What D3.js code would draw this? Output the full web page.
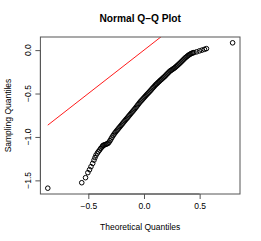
<!DOCTYPE html>
<html><head><meta charset="utf-8">
<script src="https://cdn.jsdelivr.net/npm/d3@7"></script>
<style>
html,body{margin:0;padding:0;background:#fff;}
svg{display:block;}
text{font-family:"Liberation Sans",Arial,Helvetica,sans-serif;fill:#000;}
</style></head>
<body>
<script>
// Theoretical quantiles (x) and sample quantiles (y)
const theoretical = [
 -0.864,-0.559,-0.525,-0.504,-0.489,-0.476,-0.461,-0.449,-0.440,-0.431,-0.419,-0.410,-0.399,-0.389,-0.379,-0.371,
 -0.368,-0.359,-0.350,-0.341,-0.332,-0.323,-0.314,-0.305,-0.296,-0.287,-0.278,-0.269,-0.260,-0.251,-0.242,-0.233,
 -0.224,-0.215,-0.206,-0.197,-0.189,-0.180,-0.171,-0.162,-0.153,-0.144,-0.135,-0.126,-0.117,-0.108,-0.099,-0.090,
 -0.081,-0.072,-0.063,-0.054,-0.045,-0.036,-0.027,-0.018,-0.009,0.000,0.009,0.018,0.027,0.036,0.045,0.054,
 0.063,0.072,0.081,0.090,0.099,0.108,0.117,0.126,0.135,0.144,0.153,0.162,0.171,0.180,0.189,0.197,
 0.206,0.215,0.224,0.233,0.242,0.251,0.260,0.269,0.278,0.287,0.296,0.305,0.314,0.323,0.332,0.341,
 0.350,0.359,0.368,0.377,0.386,0.395,0.404,0.413,0.422,0.431,0.440,0.449,
 0.473,0.498,0.521,0.543,0.561,0.796
];
const sample = [
 -1.590,-1.527,-1.469,-1.411,-1.377,-1.342,-1.305,-1.267,-1.238,-1.210,-1.187,-1.169,-1.152,-1.132,-1.118,-1.106,
 -1.098,-1.093,-1.089,-1.084,-1.079,-1.074,-1.060,-1.043,-1.023,-1.003,-0.985,-0.968,-0.952,-0.937,-0.923,-0.909,
 -0.895,-0.881,-0.867,-0.853,-0.840,-0.826,-0.812,-0.798,-0.785,-0.771,-0.757,-0.743,-0.729,-0.715,-0.702,-0.688,
 -0.674,-0.659,-0.644,-0.629,-0.614,-0.599,-0.586,-0.574,-0.561,-0.548,-0.535,-0.522,-0.509,-0.497,-0.485,-0.472,
 -0.460,-0.446,-0.433,-0.421,-0.407,-0.395,-0.385,-0.373,-0.363,-0.351,-0.341,-0.331,-0.320,-0.310,-0.300,-0.288,
 -0.276,-0.265,-0.253,-0.242,-0.234,-0.226,-0.218,-0.210,-0.202,-0.191,-0.181,-0.171,-0.160,-0.150,-0.138,-0.127,
 -0.115,-0.104,-0.092,-0.083,-0.073,-0.063,-0.055,-0.048,-0.041,-0.036,-0.031,-0.028,
 -0.020,-0.009,0.000,0.009,0.017,0.084
];
const xTicks = [-0.5, 0.0, 0.5];
const yTicks = [-1.5, -1.0, -0.5, 0.0];
const titleText = "Normal Q\u2013Q Plot";
const xLabel = "Theoretical Quantiles";
const yLabel = "Sampling Quantiles";

const W = 261, H = 241;
const L = 40.4, R = 240, T = 37, B = 194;
const fmt = v => (v < 0 ? "\u2212" : "") + Math.abs(v).toFixed(1);

function ext(arr){ const [a,b] = d3.extent(arr); const r = (b-a)*0.04; return [a-r, b+r]; }
const x = d3.scaleLinear().domain(ext(theoretical)).range([L, R]);
const y = d3.scaleLinear().domain(ext(sample)).range([B, T]);

const svg = d3.select("body").append("svg").attr("width", W).attr("height", H);

svg.append("defs").append("clipPath").attr("id","clip")
  .append("rect").attr("x", L).attr("y", T).attr("width", R-L).attr("height", B-T);

const pts = theoretical.map((t,i)=>({t, s: sample[i]}));

// points
svg.append("g").selectAll("circle").data(pts).join("circle")
  .attr("cx", d=>x(d.t)).attr("cy", d=>y(d.s)).attr("r", 2.3)
  .attr("fill","none").attr("stroke","#000").attr("stroke-width",1);

// reference line y = x over the range of theoretical quantiles
const [tmin, tmax] = d3.extent(theoretical);
svg.append("line").attr("clip-path","url(#clip)")
  .attr("x1", x(tmin)).attr("y1", y(tmin)).attr("x2", x(tmax)).attr("y2", y(tmax))
  .attr("stroke","#ff0000").attr("stroke-width",0.9);

// box
svg.append("rect").attr("x", L).attr("y", T).attr("width", R-L).attr("height", B-T)
  .attr("fill","none").attr("stroke","#555").attr("stroke-width",1);

// x axis
const xa = svg.append("g").attr("transform", `translate(0,${B})`)
  .call(d3.axisBottom(x).tickValues(xTicks).tickSize(5).tickPadding(4).tickFormat(fmt));
xa.selectAll(".tick line").attr("stroke","#555");
xa.selectAll("text").attr("font-size","8.5px").attr("font-family","Liberation Sans, Arial, sans-serif").attr("fill","#222");
// R draws the axis line only between the outer ticks
xa.select(".domain").attr("stroke","#555").attr("d", `M${x(xTicks[0])},0H${x(xTicks[xTicks.length-1])}`);

// y axis with rotated labels
const ya = svg.append("g").attr("transform", `translate(${L},0)`)
  .call(d3.axisLeft(y).tickValues(yTicks).tickSize(5).tickFormat(""));
ya.select(".domain").attr("stroke","#555").attr("d", `M0,${y(yTicks[0])}V${y(yTicks[yTicks.length-1])}`);
ya.selectAll(".tick line").attr("stroke","#555");
svg.append("g").selectAll("text").data(yTicks).join("text")
  .attr("transform", d=>`translate(31,${y(d)}) rotate(-90)`)
  .attr("text-anchor","middle").attr("font-size","8.5px").attr("fill","#222")
  .text(fmt);

// titles
svg.append("text").attr("x", (L+R)/2).attr("y", 22).attr("text-anchor","middle")
  .attr("font-size","10.2px").attr("font-weight","bold").text(titleText);
svg.append("text").attr("x", (L+R)/2).attr("y", 230).attr("text-anchor","middle")
  .attr("font-size","8.5px").attr("fill","#222").text(xLabel);
svg.append("text").attr("transform", `translate(11,${(T+B)/2}) rotate(-90)`)
  .attr("text-anchor","middle").attr("font-size","8.5px").attr("fill","#222").text(yLabel);
</script>
</body></html>
